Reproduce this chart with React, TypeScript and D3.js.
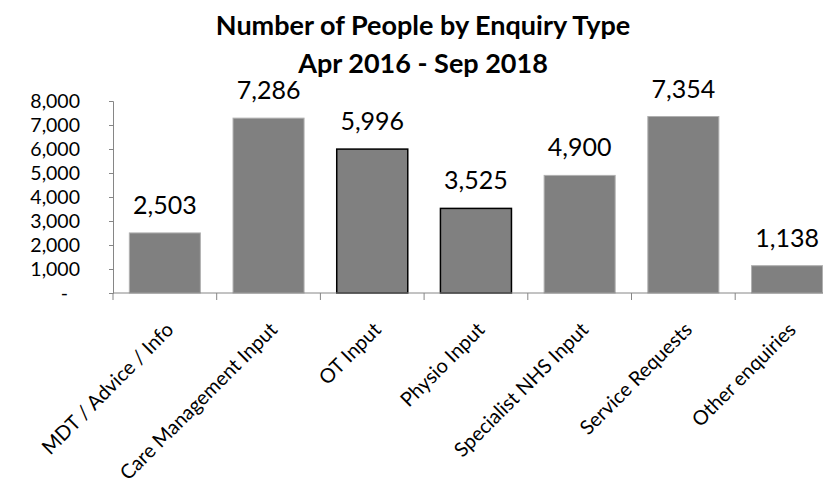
import { useEffect, useRef } from 'react';
import * as d3 from 'd3';

const categories = [
  'MDT / Advice / Info',
  'Care Management Input',
  'OT Input',
  'Physio Input',
  'Specialist NHS Input',
  'Service Requests',
  'Other enquiries',
];
const values = [2503, 7286, 5996, 3525, 4900, 7354, 1138];
// bars drawn with a black outline in the original
const outlined = ['OT Input', 'Physio Input'];
const yTicks = [0, 1000, 2000, 3000, 4000, 5000, 6000, 7000, 8000];
const titleLines = ['Number of People by Enquiry Type', 'Apr 2016 - Sep 2018'];

const W = 823;
const H = 493;
const FONT = 'Lato, "Open Sans", sans-serif';

export default function App() {
  const svgRef = useRef<SVGSVGElement>(null);

  useEffect(() => {
    if (!svgRef.current) return;
    const svg = d3.select(svgRef.current);
    svg.selectAll('*').remove();

    const left = 113;
    const step = 103.7;
    const baseY = 293;
    const topY = 101;

    const x = d3.scaleBand<string>()
      .domain(categories)
      .range([left, left + step * categories.length])
      .paddingInner(0.315)
      .paddingOuter(0.1575);

    const y = d3.scaleLinear().domain([0, 8000]).range([baseY, topY]);

    // Title
    titleLines.forEach((t, i) => {
      svg.append('text')
        .attr('x', 423)
        .attr('y', 35 + i * 38)
        .attr('text-anchor', 'middle')
        .attr('font-family', FONT)
        .attr('font-size', '27px')
        .attr('font-weight', '700')
        .attr('fill', '#000')
        .text(t);
    });

    // Bars
    categories.forEach((c, i) => {
      const isOutlined = outlined.includes(c);
      svg.append('rect')
        .attr('x', x(c)!)
        .attr('y', y(values[i]))
        .attr('width', x.bandwidth())
        .attr('height', baseY - y(values[i]))
        .attr('fill', '#808080')
        .attr('stroke', isOutlined ? '#000' : '#b0b0b0')
        .attr('stroke-width', isOutlined ? 1.5 : 1);

      svg.append('text')
        .attr('x', x(c)! + x.bandwidth() / 2)
        .attr('y', y(values[i]) - 19)
        .attr('text-anchor', 'middle')
        .attr('font-family', FONT)
        .attr('font-size', '25px')
        .attr('fill', '#000')
        .text(d3.format(',')(values[i]));
    });

    // Y axis
    const yAxis = svg.append('g')
      .attr('transform', `translate(${left},0)`)
      .call(d3.axisLeft(y).tickValues(yTicks).tickSize(4).tickPadding(29)
        .tickFormat(d => (+d === 0 ? '-' : d3.format(',')(+d))));
    yAxis.select('.domain').attr('stroke', '#868686');
    yAxis.selectAll('.tick line').attr('stroke', '#868686');
    yAxis.selectAll('.tick text')
      .attr('font-family', FONT)
      .attr('font-size', '19.5px')
      .attr('fill', '#000');
    yAxis.selectAll('.tick')
      .filter(d => +(d as number) === 0)
      .select('text')
      .attr('dx', -12);

    // X axis
    svg.append('line')
      .attr('x1', left)
      .attr('x2', W)
      .attr('y1', baseY)
      .attr('y2', baseY)
      .attr('stroke', '#868686');

    categories.forEach((c) => {
      const bx = x(c)! - (x.step() * x.paddingInner()) / 2;
      svg.append('line')
        .attr('x1', bx)
        .attr('x2', bx)
        .attr('y1', baseY)
        .attr('y2', baseY + 7)
        .attr('stroke', '#868686');
    });

    // Category labels, rotated -45deg, end aligned with band center
    categories.forEach((c) => {
      const cx = x(c)! + x.bandwidth() / 2 + 10;
      const cy = 331;
      svg.append('text')
        .attr('transform', `translate(${cx},${cy}) rotate(-45)`)
        .attr('text-anchor', 'end')
        .attr('font-family', FONT)
        .attr('font-size', '20px')
        .attr('fill', '#000')
        .text(c);
    });
  }, []);

  return (
    <div style={{ position: 'absolute', left: 0, top: 0, width: W, height: H, background: '#fff' }}>
      <svg ref={svgRef} width={W} height={H} style={{ display: 'block' }} />
    </div>
  );
}
